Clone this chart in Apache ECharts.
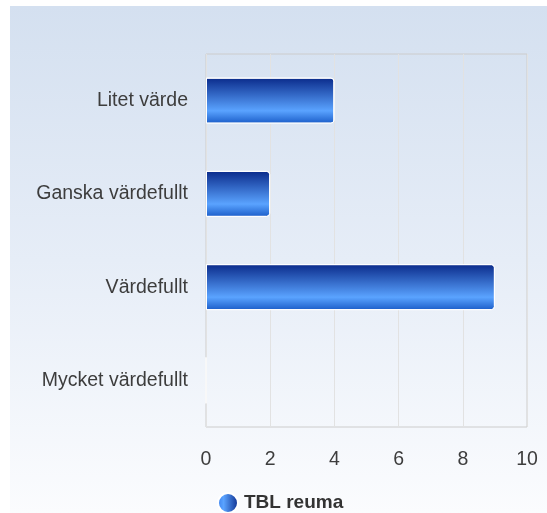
<!DOCTYPE html>
<html>
<head>
<meta charset="utf-8">
<script src="https://cdn.jsdelivr.net/npm/echarts@6/dist/echarts.min.js"></script>
<style>
    html, body { margin: 0; padding: 0; background: #fff; }
    .bg { position: absolute; left: 10px; top: 6px; width: 537px; height: 507px;
          background: linear-gradient(to bottom, #d4e0f0 0%, #e6edf7 50%, #fbfcfe 100%); }
    #chart { position: absolute; left: 0; top: 0; width: 547px; height: 513px; }
</style>
</head>
<body>
<div class="bg"></div>
<div id="chart"></div>
<script>
    // data
    const categories = ['Litet värde', 'Ganska värdefullt', 'Värdefullt', 'Mycket värdefullt'];
    const seriesName = 'TBL reuma';
    const values = [4, 2, 9, 0];
    const xTicks = { min: 0, max: 10, interval: 2 };

    const chart = echarts.init(document.getElementById('chart'));

    const barGradient = new echarts.graphic.LinearGradient(0, 0, 0, 1, [
        { offset: 0, color: '#0a2a8a' },
        { offset: 0.72, color: '#5aa3ff' },
        { offset: 1, color: '#1a5cc8' }
    ]);

    const option = {
        backgroundColor: 'transparent',
        textStyle: { fontFamily: 'Liberation Sans, Arial, sans-serif' },
        grid: {
            left: 206, top: 54, right: 20, bottom: 86,
            show: true, borderColor: '#cccccc', borderWidth: 1,
            backgroundColor: 'transparent'
        },
        legend: {
            data: [{
                name: seriesName,
                itemStyle: {
                    color: new echarts.graphic.LinearGradient(0, 0, 1, 0, [
                        { offset: 0, color: '#3a80ee' },
                        { offset: 0.3, color: '#5aa3ff' },
                        { offset: 1, color: '#0a2a8a' }
                    ])
                }
            }],
            left: 212, top: 487,
            icon: 'circle',
            itemWidth: 20, itemHeight: 20,
            textStyle: { fontSize: 19, fontWeight: 'bold', color: '#333', padding: [0, 0, 0, 1] }
        },
        xAxis: {
            type: 'value',
            min: xTicks.min, max: xTicks.max, interval: xTicks.interval,
            axisLine: { show: false },
            axisTick: { show: false },
            splitLine: { show: true, lineStyle: { color: '#e2e2e2', width: 1 } },
            axisLabel: { fontSize: 19.5, color: '#3d3d3d', margin: 23 }
        },
        yAxis: {
            type: 'category',
            data: categories,
            inverse: true,
            axisLine: { show: false },
            axisTick: { show: false },
            splitLine: { show: false },
            axisLabel: { fontSize: 19.5, color: '#3d3d3d', margin: 18 }
        },
        series: [{
            name: seriesName,
            type: 'bar',
            data: values,
            barWidth: 46,
            itemStyle: {
                color: barGradient,
                borderColor: '#ffffff',
                borderWidth: 1,
                borderRadius: [0, 3, 3, 0]
            }
        }]
    };

    chart.setOption(option);
</script>
</body>
</html>
